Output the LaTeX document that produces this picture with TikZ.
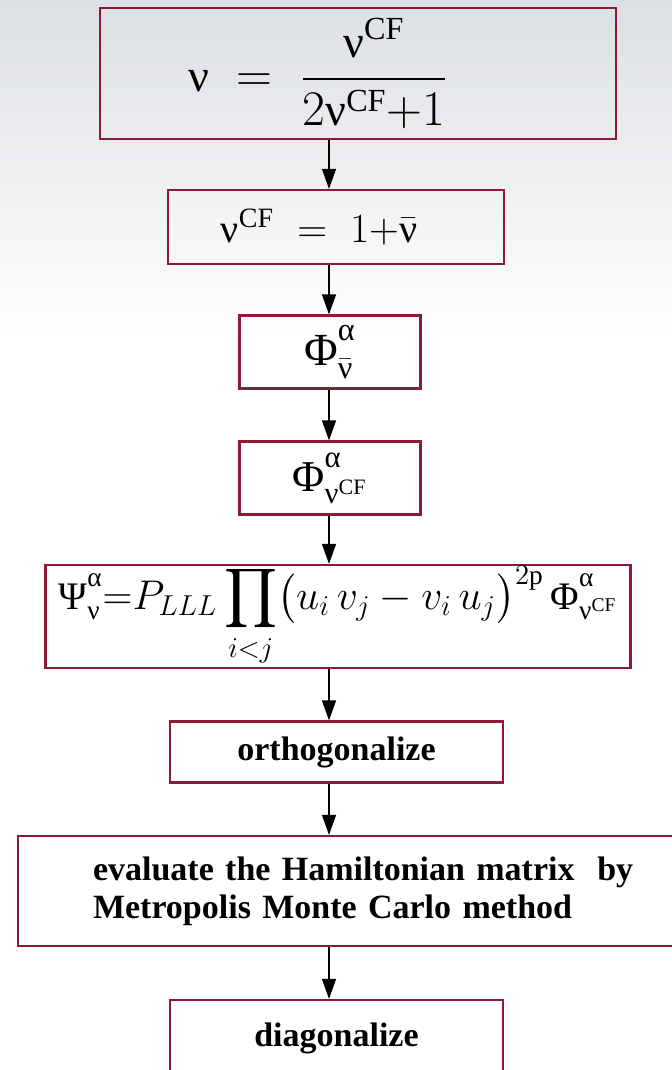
\documentclass[tikz,border=0pt]{standalone}
\usepackage{amsmath}
\usepackage{fontspec}
\setmainfont{Liberation Serif}
\usetikzlibrary{arrows.meta,positioning,calc}
\definecolor{fcred}{HTML}{8C1C36}
\definecolor{fcgrey}{HTML}{DCDFE3}
\newcommand{\gnu}{\text{ν}}
\newcommand{\gcf}{\text{CF}}
\newcommand{\galpha}{\raisebox{0.15em}{$\scriptstyle\text{α}$}}

\begin{document}
\begin{tikzpicture}[
  x=0.5pt, y=-0.5pt,
  box/.style={draw=fcred, line width=1.1pt, align=center, inner sep=0pt,
              font=\fontsize{20}{24}\selectfont},
  word/.style={box, font=\bfseries\fontsize{17}{19}\selectfont},
  arrow/.style={-{Triangle[length=10pt,width=7pt]}, line width=0.6pt},
]
  \useasboundingbox (0,0) rectangle (672,1070);
  \clip (0,0) rectangle (672,1070);

  %% Fondo degradado
  \shade[top color=fcgrey, bottom color=white] (0,0) rectangle (672,340);
  \coordinate (spine) at (329,0);

  %% Cajas de arriba abajo
  \node[box, font=\fontsize{23}{27}\selectfont, minimum width=258pt, minimum height=65.5pt] (nu) at (358,73.5)
    {$\gnu\;=\;\dfrac{\gnu^{\gcf}}{2\gnu^{\gcf}{+}1}$\hspace*{40pt}};
  \node[box, minimum width=168pt, minimum height=37pt] (nucf) at (336,227)
    {$\gnu^{\gcf}\;=\;1{+}\bar{\gnu}$\hspace*{17pt}};
  \node[box, font=\fontsize{23}{25}\selectfont, minimum width=90.5pt, minimum height=36.5pt] (phibar) at (330,352)
    {$\text{Φ}^{\galpha}_{\bar{\gnu}}$};
  \node[box, font=\fontsize{22}{24}\selectfont, minimum width=90.5pt, minimum height=36.5pt] (phicf) at (330,478)
    {$\text{Φ}^{\galpha}_{\gnu^{\gcf}}$};
  \node[box, font=\fontsize{19.5}{22}\selectfont, minimum width=292.5pt, minimum height=51.5pt] (psi) at (338,616.5)
    {$\displaystyle \text{Ψ}^{\galpha}_{\gnu}{=}P_{LLL}\prod_{i<j}\bigl(u_i\,v_j-v_i\,u_j\bigr)^{2\text{p}}\,\text{Φ}^{\galpha}_{\gnu^{\gcf}}$};
  \node[word, minimum width=166.5pt, minimum height=30.5pt] (orth) at (336.5,752)
    {orthogonalize};
  \node[word, align=left, text width=290pt, inner xsep=37.5pt, minimum height=55pt] (ham) at (383,891)
    {evaluate the Hamiltonian matrix\ \ by\\Metropolis Monte Carlo method};
  \node[word, minimum width=166.5pt, minimum height=38pt] (diag) at (336.5,1038)
    {diagonalize};

  %% Flechas de la cadena principal
  \draw[arrow] (nu.south -| spine)     -- (nucf.north -| spine);
  \draw[arrow] (nucf.south -| spine)   -- (phibar.north -| spine);
  \draw[arrow] (phibar.south -| spine) -- (phicf.north -| spine);
  \draw[arrow] (phicf.south -| spine)  -- (psi.north -| spine);
  \draw[arrow] (psi.south -| spine)    -- (orth.north -| spine);
  \draw[arrow] (orth.south -| spine)   -- (ham.north -| spine);
  \draw[arrow] (ham.south -| spine)    -- (diag.north -| spine);

\end{tikzpicture}
\end{document}
